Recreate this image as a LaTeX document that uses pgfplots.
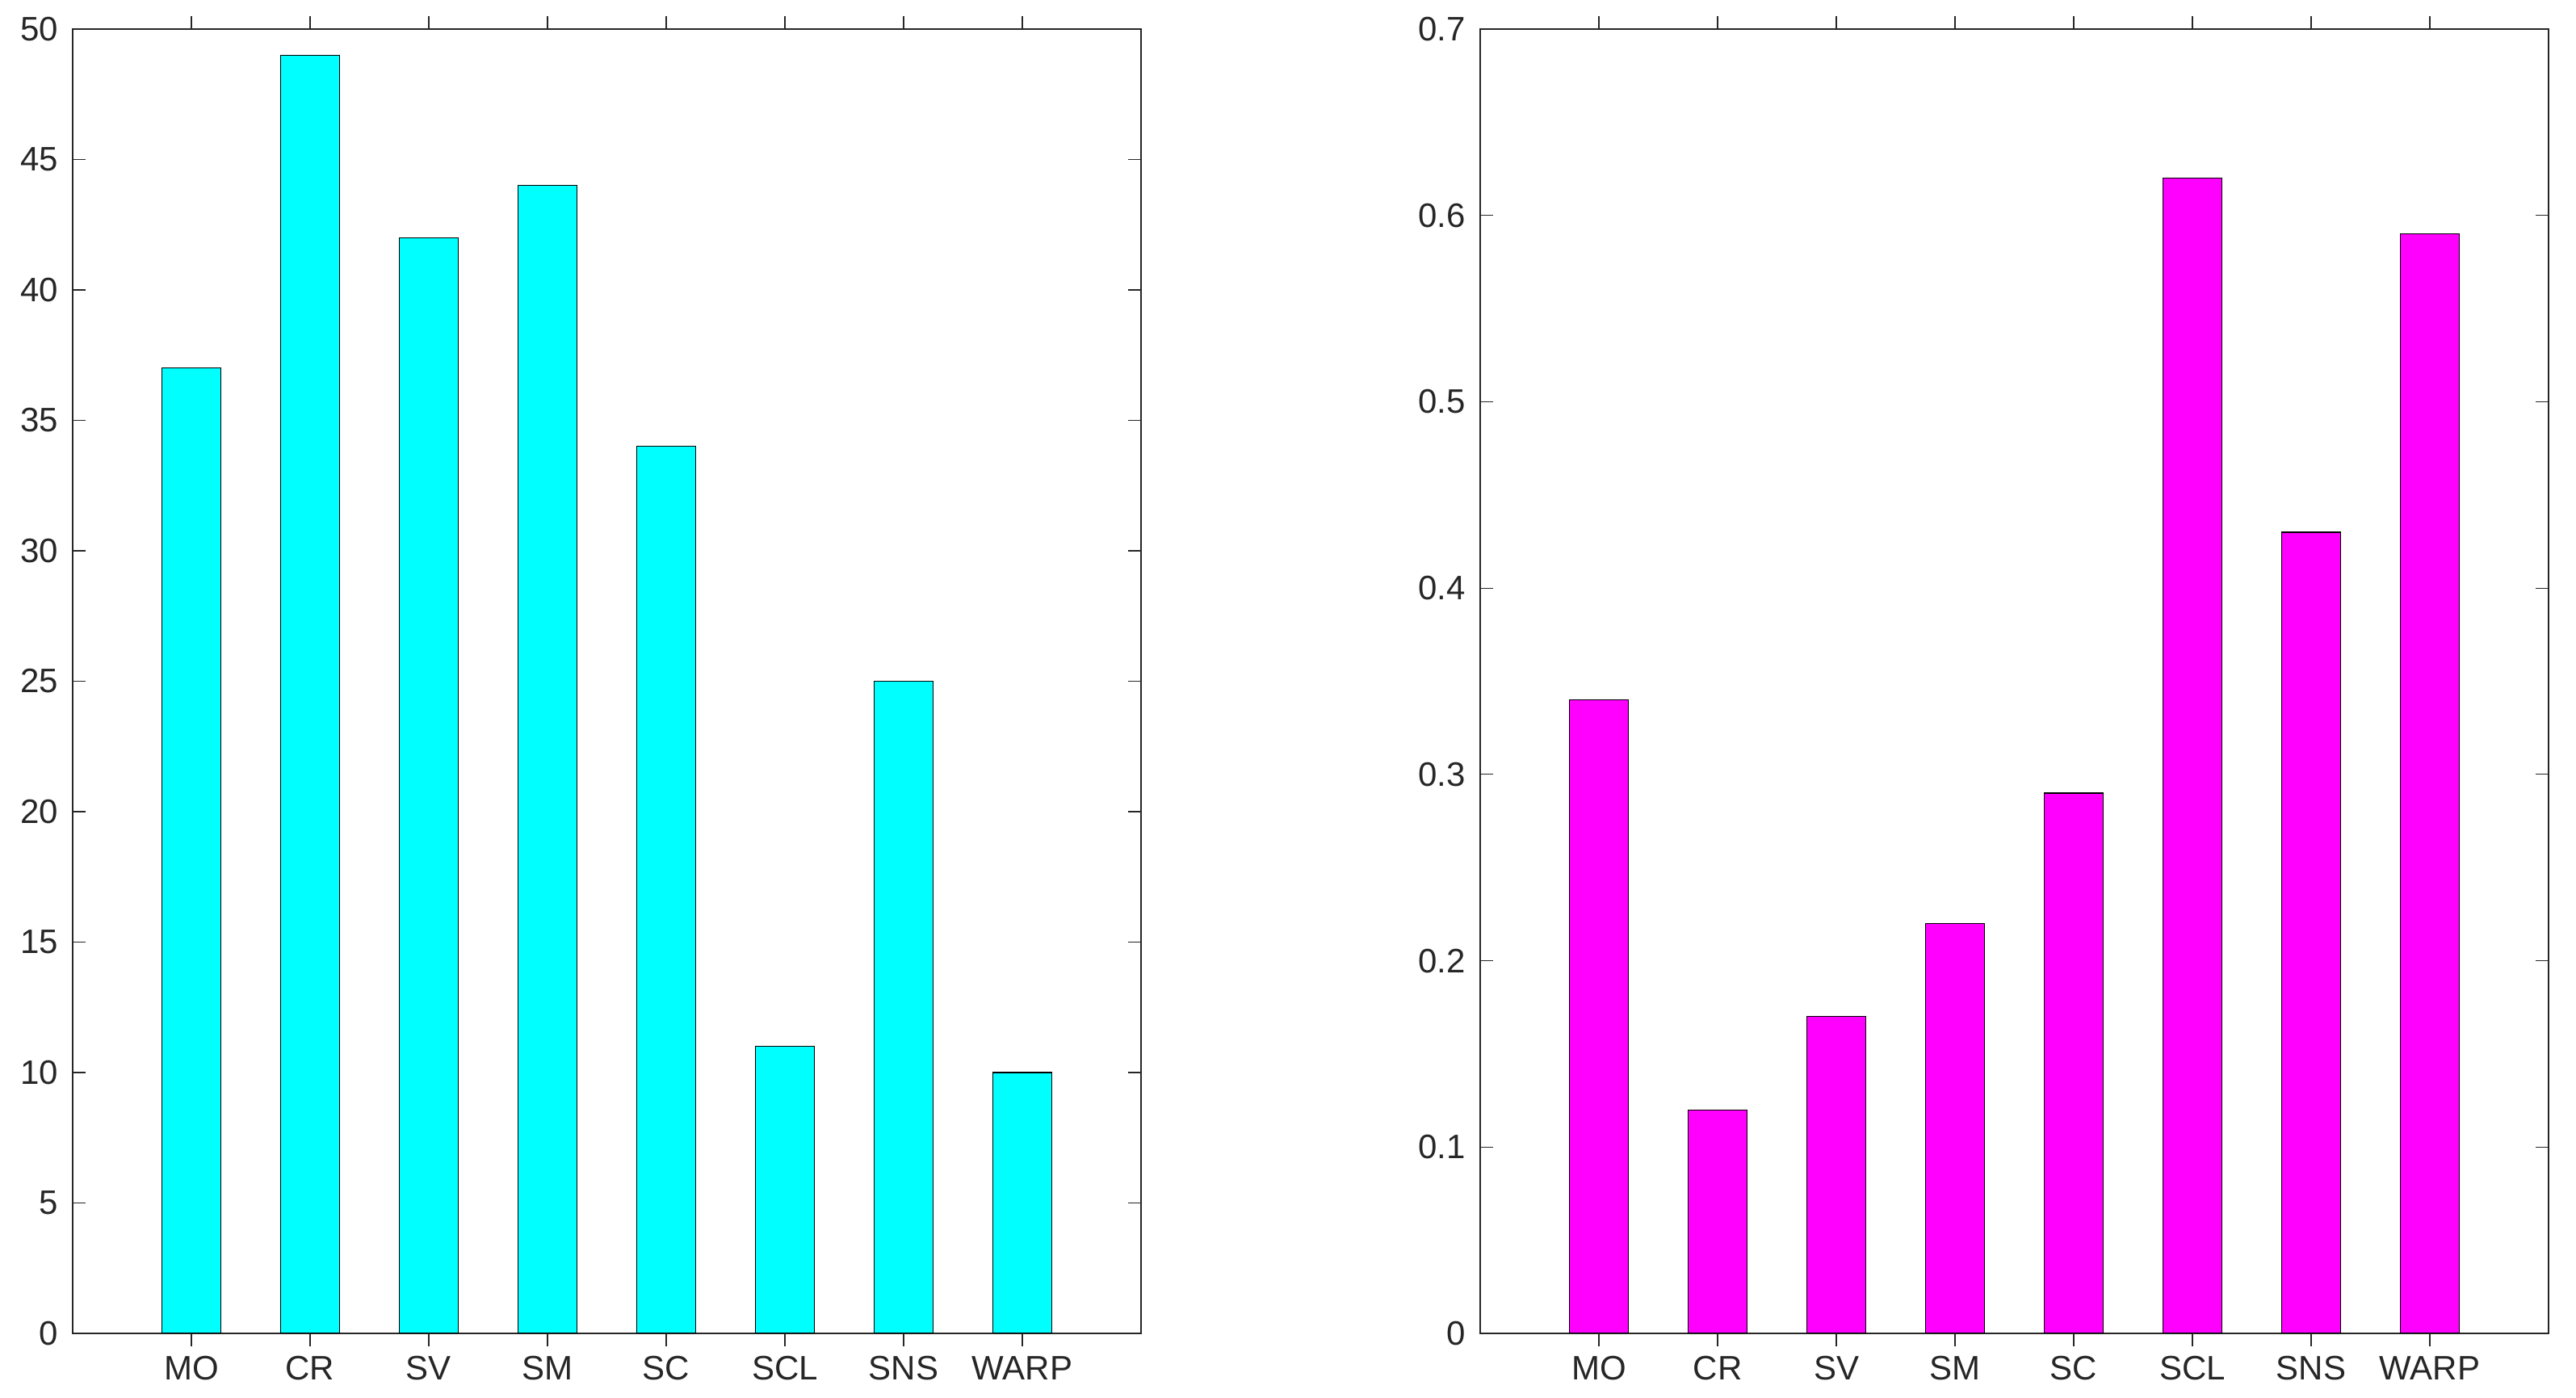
\documentclass[border=0pt]{standalone}
\usepackage{pgfplots}
\pgfplotsset{compat=1.18}
\usepackage{fontspec}
\setmainfont{Liberation Sans}
\definecolor{axgray}{RGB}{38,38,38}
\definecolor{barcyan}{RGB}{0,255,255}
\definecolor{barmagenta}{RGB}{255,0,255}
\begin{document}
\begin{tikzpicture}
\useasboundingbox (-22.5pt,-20pt) rectangle (775pt,412.75pt);
\pgfplotsset{
  myax/.style={
    width=330.75pt, height=403.75pt, scale only axis,
    xmin=0, xmax=9, ymin=0,
    xtick={1,2,3,4,5,6,7,8},
    xticklabels={MO,CR,SV,SM,SC,SCL,SNS,WARP},
    tick align=inside, major tick length=4pt,
    tick style={axgray, line width=0.3pt},
    axis line style={axgray, line width=0.3pt},
    every tick label/.append style={font=\fontsize{10.5}{12}\selectfont, text=axgray},
    xticklabel style={yshift=0.5pt},
    yticklabel style={xshift=-1pt},
    /pgf/number format/assume math mode=true,
    ybar, bar width=0.5,
    anchor=south west,
  }
}
\begin{axis}[myax, at={(0pt,0pt)}, ymax=50, ytick={0,5,10,15,20,25,30,35,40,45,50}]
\addplot[fill=barcyan, draw=black, line width=0.3pt] coordinates {
  (1,37) (2,49) (3,42) (4,44) (5,34) (6,11) (7,25) (8,10)};
\end{axis}
\begin{axis}[myax, at={(435.75pt,0pt)}, ymax=0.7, ytick={0,0.1,0.2,0.3,0.4,0.5,0.6,0.7},
  yticklabel style={/pgf/number format/fixed, /pgf/number format/precision=1}]
\addplot[fill=barmagenta, draw=black, line width=0.3pt] coordinates {
  (1,0.34) (2,0.12) (3,0.17) (4,0.22) (5,0.29) (6,0.62) (7,0.43) (8,0.59)};
\end{axis}
\end{tikzpicture}
\end{document}
